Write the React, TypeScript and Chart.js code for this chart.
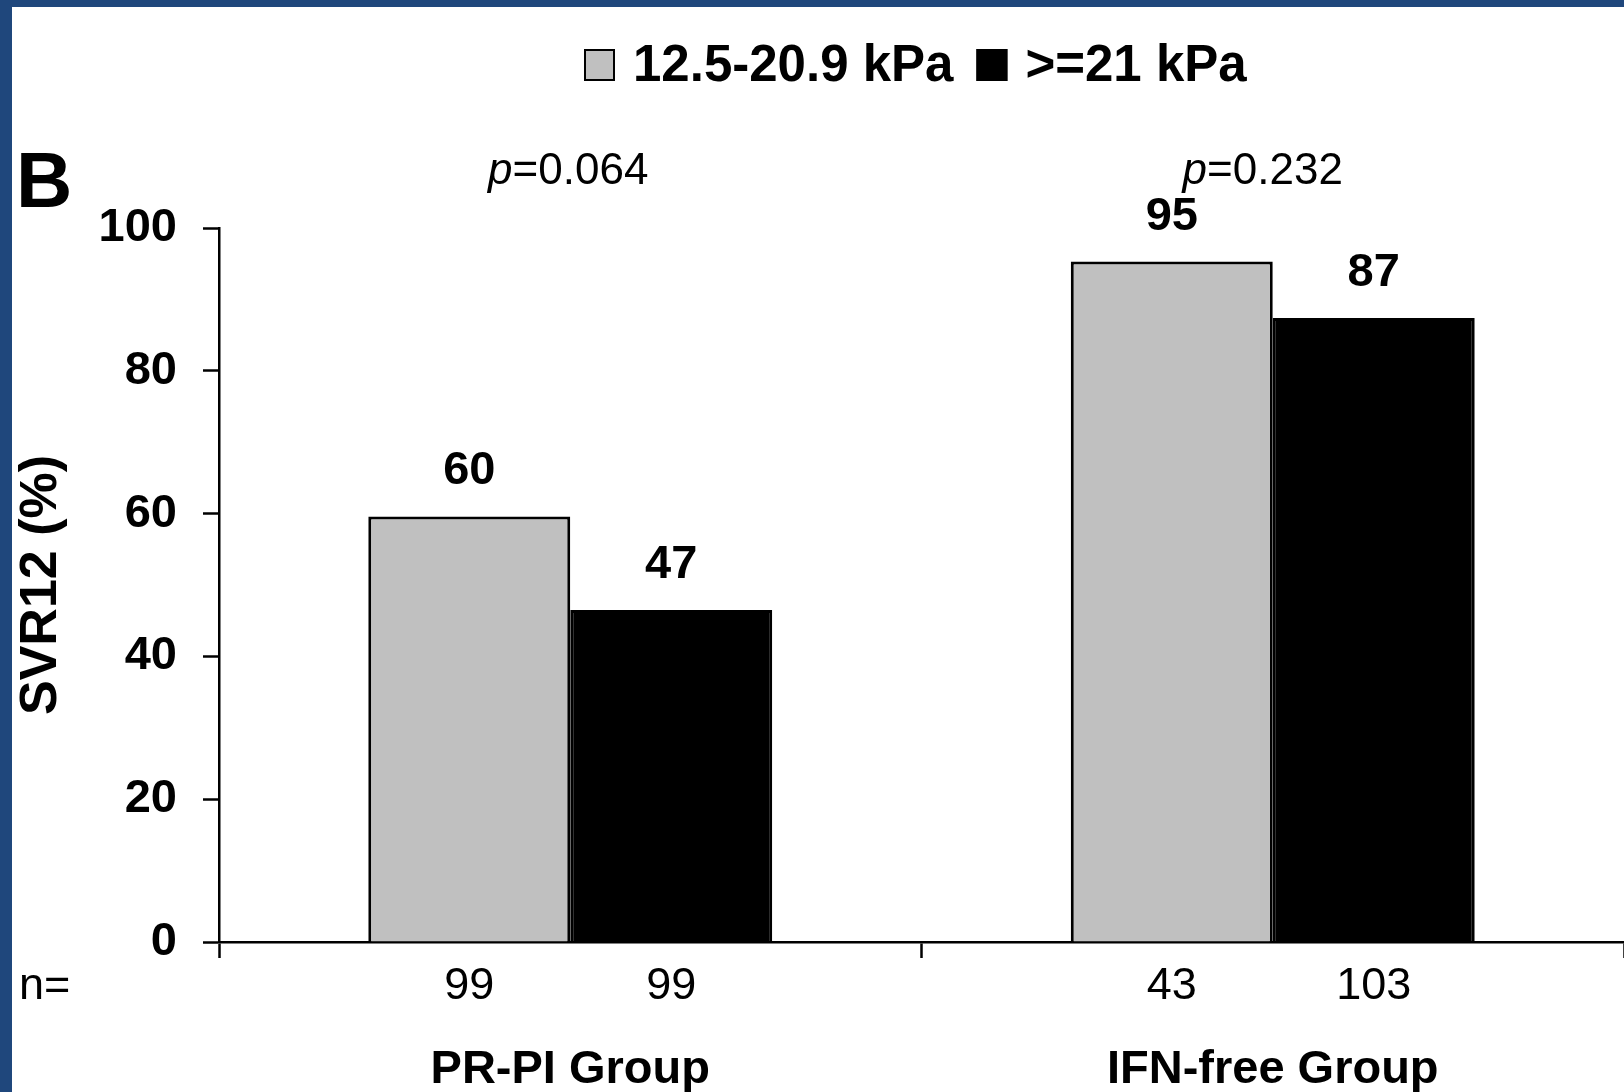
import React, { useEffect, useRef } from "react";
import { Chart, registerables } from "chart.js";

Chart.register(...registerables);

const categories = ["PR-PI Group", "IFN-free Group"];
const seriesNames = ["12.5-20.9 kPa", ">=21 kPa"];
const lowStiffnessSVR = [59.6, 95.3];
const highStiffnessSVR = [46.5, 87.4];
const lowStiffnessN = [99, 43];
const highStiffnessN = [99, 103];
const pValues = ["0.064", "0.232"];
const yTickValues = [0, 20, 40, 60, 80, 100];

const FONT = '"Liberation Sans", Arial, Helvetica, sans-serif';
const GRAY = "#c0c0c0";
const BLACK = "#000000";
const BLUE = "#1f477c";

const overlayPlugin = {
  id: "overlay",
  afterDraw(chart: any) {
    const ctx = chart.ctx as CanvasRenderingContext2D;
    const area = chart.chartArea;
    ctx.save();
    ctx.fillStyle = "#000";

    // Panel letter
    ctx.font = `bold 78px ${FONT}`;
    ctx.textAlign = "left";
    ctx.textBaseline = "alphabetic";
    ctx.fillText("B", 4, area.top - 21);

    // Legend
    ctx.font = `bold 51px ${FONT}`;
    let lx = 572;
    const boxTop = 42;
    const boxSize = 31;
    const colors = [GRAY, BLACK];
    seriesNames.forEach((name, i) => {
      ctx.fillStyle = colors[i];
      ctx.fillRect(lx, boxTop, boxSize, boxSize + 1);
      ctx.lineWidth = 2;
      ctx.strokeStyle = "#000";
      ctx.strokeRect(lx + 1, boxTop + 1, boxSize - 2, boxSize - 1);
      ctx.fillStyle = "#000";
      const tx = lx + boxSize + 18;
      ctx.fillText(name, tx, 74);
      lx = tx + ctx.measureText(name).width + 23;
    });

    // Value labels above bars and n labels below
    const nLists = [lowStiffnessN, highStiffnessN];
    [0, 1].forEach((di) => {
      const meta = chart.getDatasetMeta(di);
      const values = chart.data.datasets[di].data as number[];
      meta.data.forEach((bar: any, j: number) => {
        ctx.font = `bold 47px ${FONT}`;
        ctx.textAlign = "center";
        ctx.textBaseline = "alphabetic";
        ctx.fillText(String(Math.round(values[j])), bar.x, bar.y - 32);
        ctx.font = `45px ${FONT}`;
        ctx.fillText(String(nLists[di][j]), bar.x, area.bottom + 57);
      });
    });

    // n=
    ctx.font = `45px ${FONT}`;
    ctx.textAlign = "left";
    ctx.fillText("n=", 7, area.bottom + 57);

    // p-values
    const xScale = chart.scales.x;
    pValues.forEach((pv, j) => {
      const cx = xScale.getPixelForValue(j) - (j === 1 ? 10 : 2);
      const italic = `italic 44px ${FONT}`;
      const regular = `44px ${FONT}`;
      ctx.font = italic;
      const wP = ctx.measureText("p").width;
      ctx.font = regular;
      const rest = "=" + pv;
      const wR = ctx.measureText(rest).width;
      const start = cx - (wP + wR) / 2;
      ctx.textAlign = "left";
      ctx.font = italic;
      ctx.fillText("p", start, area.top - 44);
      ctx.font = regular;
      ctx.fillText(rest, start + wP, area.top - 44);
    });

    ctx.restore();
  },
};

export default function App() {
  const canvasRef = useRef<HTMLCanvasElement | null>(null);

  useEffect(() => {
    if (!canvasRef.current) return;
    const chart = new Chart(canvasRef.current, {
      type: "bar",
      data: {
        labels: categories,
        datasets: [
          {
            label: seriesNames[0],
            data: lowStiffnessSVR,
            backgroundColor: GRAY,
            borderColor: BLACK,
            borderWidth: 3,
            categoryPercentage: 0.575,
            barPercentage: 1.0,
          },
          {
            label: seriesNames[1],
            data: highStiffnessSVR,
            backgroundColor: BLACK,
            borderColor: BLACK,
            borderWidth: 3,
            categoryPercentage: 0.575,
            barPercentage: 1.0,
          },
        ],
      },
      options: {
        animation: false,
        responsive: true,
        maintainAspectRatio: false,
        layout: { padding: { top: 221, left: 0, right: 0, bottom: 0 } },
        plugins: {
          legend: { display: false },
          tooltip: { enabled: false },
        },
        scales: {
          x: {
            type: "category",
            offset: true,
            grid: {
              display: true,
              offset: true,
              drawOnChartArea: false,
              drawTicks: true,
              tickLength: 16,
              tickColor: BLACK,
              tickWidth: 2.5,
              color: BLACK,
            },
            border: { display: true, color: BLACK, width: 2.5 },
            ticks: {
              color: BLACK,
              padding: 84,
              font: { family: FONT, size: 47, weight: "bold" },
              maxRotation: 0,
            },
            afterFit: (s: any) => {
              s.height = 150;
            },
          },
          y: {
            min: 0,
            max: 100,
            afterBuildTicks: (s: any) => {
              s.ticks = yTickValues.map((v) => ({ value: v }));
            },
            grid: {
              display: true,
              drawOnChartArea: false,
              drawTicks: true,
              tickLength: 16,
              tickColor: BLACK,
              tickWidth: 2.5,
              color: BLACK,
            },
            border: { display: true, color: BLACK, width: 2.5 },
            ticks: {
              color: BLACK,
              padding: 26,
              font: { family: FONT, size: 47, weight: "bold" },
            },
            title: {
              display: true,
              text: "SVR12 (%)",
              color: BLACK,
              font: { family: FONT, size: 52, weight: "bold", lineHeight: 1.15 },
              padding: { top: 0, bottom: 0 },
            },
            afterFit: (s: any) => {
              s.width = 207;
            },
          },
        },
      },
      plugins: [overlayPlugin],
    });
    return () => chart.destroy();
  }, []);

  return (
    <div
      style={{
        position: "absolute",
        left: 0,
        top: 0,
        width: 1624,
        height: 1092,
        background: BLUE,
      }}
    >
      <div
        style={{
          position: "absolute",
          left: 12,
          top: 7,
          width: 1612,
          height: 1085,
          background: "#ffffff",
        }}
      >
        <canvas ref={canvasRef} />
      </div>
    </div>
  );
}
